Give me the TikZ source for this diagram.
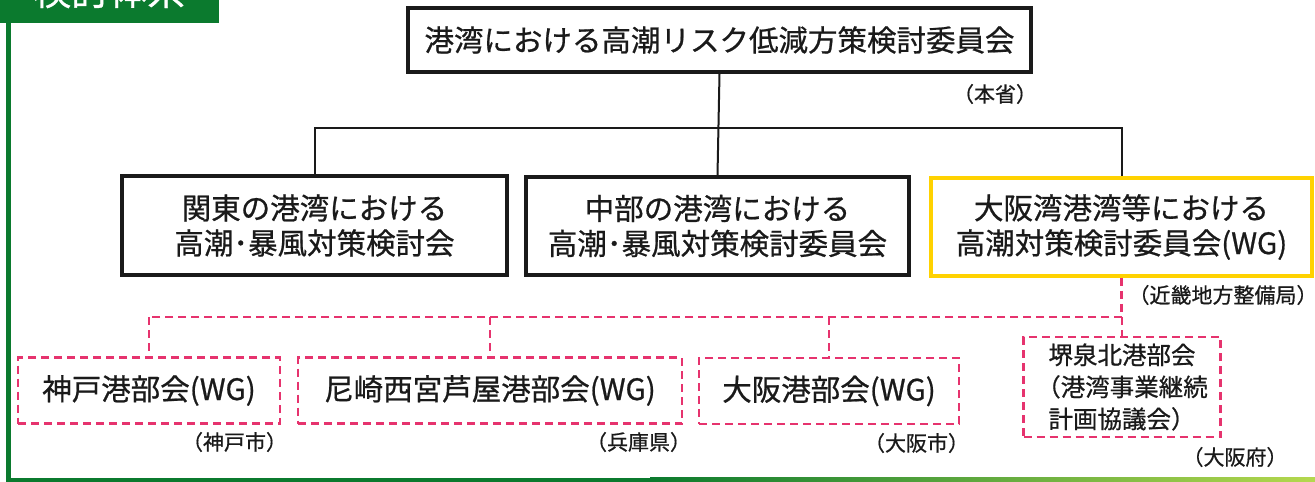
\documentclass[tikz,border=0pt]{standalone}
\usepackage{fontspec}
\setmainfont{Noto Sans CJK JP}[RawFeature={embolden=0.7}]
\usetikzlibrary{calc}
\definecolor{ink}{HTML}{1A1A1A}
\definecolor{gframe}{HTML}{0B7A2E}
\definecolor{gyellow}{HTML}{B5D84E}
\definecolor{goldline}{HTML}{FFD200}
\definecolor{pinkline}{HTML}{E6336E}
\begin{document}
\begin{tikzpicture}[x=1pt,y=-1pt,
  solidbox/.style={draw=ink, line width=3.5pt, inner sep=0pt, align=center, text=ink,
    font=\fontsize{29.5}{35}\selectfont},
  goldbox/.style={draw=goldline, line width=3.5pt, inner sep=0pt, align=center, text=ink,
    font=\fontsize{29.5}{35}\selectfont},
  dashbox/.style={draw=pinkline, line width=2.5pt, dash pattern=on 8pt off 5pt,
    inner sep=0pt, align=center, text=ink, font=\fontsize{29.5}{35}\selectfont},
  smalllabel/.style={inner sep=0pt, text=ink, font=\fontsize{21}{24}\selectfont},
  conn/.style={draw=ink, line width=2pt},
  pinkconn/.style={draw=pinkline, line width=2.5pt, dash pattern=on 8pt off 5pt}
]
\useasboundingbox (0,0) rectangle (1315,482);
\fill[white] (0,0) rectangle (1315,482);

% green frame and header
\fill[gframe] (0,0) rectangle (219,22.5);
\node[anchor=base west, inner sep=0pt, text=white, font=\fontsize{38}{40}\selectfont] (hdr) at (33,5) {検討体系};
\draw[gframe, line width=5pt] (8,22) -- (8,482);
\fill[gframe] (5.5,477.5) rectangle (650,482.5);
\shade[left color=gframe, right color=gyellow] (650,477.5) rectangle (1315,482.5);

% main nodes
\node[solidbox, minimum width=623, minimum height=64] (top) at (719.5,40) {港湾における高潮リスク低減方策検討委員会};
\node[smalllabel] (honsho) at (995,94) {（本省）};

\node[solidbox, minimum width=385, minimum height=99] (kanto) at (314.5,225.5) {関東の港湾における\\高潮･暴風対策検討会};
\node[solidbox, minimum width=383, minimum height=98] (chubu) at (717.5,226) {中部の港湾における\\高潮･暴風対策検討委員会};
\node[goldbox, minimum width=381, minimum height=98] (kinki) at (1121.5,227) {大阪湾港湾等における\\高潮対策検討委員会(WG)};
\node[smalllabel] (kinkilbl) at (1223,295) {（近畿地方整備局）};

% black connectors
\coordinate (bus) at (0,128);
\draw[conn] (top.south) -- (chubu.north);
\draw[conn] (kanto.north) -- (kanto.north |- bus) -- (kinki.north |- bus) -- (kinki.north);

% bottom nodes
\node[dashbox, minimum width=262, minimum height=66] (kobe) at (149,390.5) {神戸港部会(WG)};
\node[dashbox, minimum width=384, minimum height=66] (ama) at (490,390.5) {尼崎西宮芦屋港部会(WG)};
\node[dashbox, minimum width=260, minimum height=66] (osaka) at (829,391) {大阪港部会(WG)};
\node[dashbox, minimum width=197, minimum height=100, font=\fontsize{24.5}{32}\selectfont] (sakai) at (1122,387) {堺泉北港部会\\（港湾事業継続\\計画協議会）};

\node[smalllabel] (kobelbl) at (234.5,442) {（神戸市）};
\node[smalllabel] (hyogolbl) at (638.5,442) {（兵庫県）};
\node[smalllabel] (osakalbl) at (916.5,443) {（大阪市）};
\node[smalllabel] (fulbl) at (1235,457) {（大阪府）};

% pink connectors
\coordinate (pbus) at (0,317);
\draw[pinkconn] (kinki.south) -- (kinki.south |- pbus);
\draw[pinkconn] (sakai.north |- pbus) -- (kobe.north |- pbus);
\draw[pinkconn] (kobe.north |- pbus) -- (kobe.north);
\draw[pinkconn] (ama.north |- pbus) -- (ama.north);
\draw[pinkconn] (osaka.north |- pbus) -- (osaka.north);
\draw[pinkconn] (sakai.north |- pbus) -- (sakai.north);
\end{tikzpicture}
\end{document}
